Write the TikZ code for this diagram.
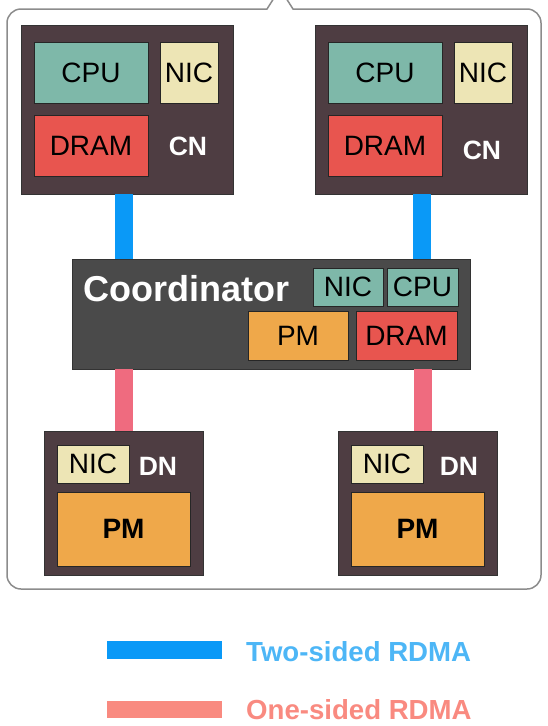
\documentclass[tikz,border=0pt]{standalone}
\usepackage{fontspec}
\setmainfont{Liberation Sans}
\definecolor{hostgray}{HTML}{4E3D42}
\definecolor{coordgray}{HTML}{4A4A4A}
\definecolor{cpuc}{HTML}{7EB8A9}
\definecolor{nicc}{HTML}{EDE5B5}
\definecolor{dramc}{HTML}{E8554F}
\definecolor{pmc}{HTML}{EFA84A}
\definecolor{linkblue}{HTML}{0A99F7}
\definecolor{linkpink}{HTML}{EF6B7F}
\definecolor{legpink}{HTML}{F98A80}
\definecolor{legblue}{HTML}{4DB6F6}
\begin{document}
\begin{tikzpicture}[x=1pt,y=-1pt,
  hostbox/.style={fill=hostgray,draw=black!80,line width=1pt,anchor=north west,inner sep=0pt,outer sep=0pt},
  partbox/.style={draw=black!85,line width=.8pt,anchor=north west,inner sep=0pt,outer sep=0pt,font=\fontsize{28}{30}\selectfont},
  hosttag/.style={text=white,inner sep=0pt,font=\bfseries\fontsize{26.5}{28}\selectfont},
  twoside/.style={draw=linkblue,line width=18pt},
  onesided/.style={draw=linkpink,line width=18pt},
  legtext/.style={anchor=base west,inner sep=0pt,font=\bfseries\fontsize{27.6}{30}\selectfont}]
\useasboundingbox (0,0) rectangle (547,726);
\clip (0,0) rectangle (547,726);
% callout frame
\draw[black!45,line width=1.5pt] (274,-2) -- (267,9) [rounded corners=14] -- (7,9) -- (7,589)
    -- (541,589) -- (541,9) -- (420,9) [sharp corners] -- (293,9) -- (286,-2);
% compute nodes
\foreach \n/\dx/\lx/\ly in {A/0/188/146,B/294/482/150}{
\node[hostbox,minimum width=212,minimum height=169] (cn\n) at (21+\dx,25) {};
\node[partbox,fill=cpuc,minimum width=114,minimum height=61] (cpu\n) at (34+\dx,42) {CPU};
\node[partbox,fill=nicc,minimum width=58,minimum height=61] (nic\n) at (160+\dx,42) {NIC};
\node[partbox,fill=dramc,minimum width=114,minimum height=61] (dram\n) at (34+\dx,115) {DRAM};
\node[hosttag] (cntag\n) at (\lx,\ly) {CN};
}
% coordinator
\node[hostbox,fill=coordgray,minimum width=398,minimum height=110] (coord) at (72,259) {};
\node[anchor=base west,inner sep=0pt,text=white,font=\bfseries\fontsize{36}{40}\selectfont] (coordname) at (83,301) {Coordinator};
\node[partbox,fill=cpuc,minimum width=70,minimum height=38] (coordnic) at (313,268) {NIC};
\node[partbox,fill=cpuc,minimum width=71,minimum height=38] (coordcpu) at (387,268) {CPU};
\node[partbox,fill=pmc,minimum width=100,minimum height=49] (coordpm) at (248,311) {PM};
\node[partbox,fill=dramc,minimum width=101,minimum height=49] (coorddram) at (356,311) {DRAM};
% data nodes
\foreach \n/\dx/\lx in {A/0/158,B/294/459}{
\node[hostbox,minimum width=159,minimum height=144] (dn\n) at (44+\dx,431) {};
\node[partbox,fill=nicc,minimum width=72,minimum height=38] (dnnic\n) at (57+\dx,445) {NIC};
\node[partbox,fill=pmc,minimum width=133,minimum height=74,font=\bfseries\fontsize{28}{30}\selectfont] (dnpm\n) at (57+\dx,492) {PM};
\node[hosttag] (dntag\n) at (\lx,466) {DN};
}
% links
\foreach \n/\dx in {A/103,B/107}
\draw[twoside] ([xshift=\dx]cn\n.south west) -- ([xshift=\dx]cn\n.south west |- coord.north);
\foreach \n/\dx in {A/80,B/85}
\draw[onesided] ([xshift=\dx]dn\n.north west) -- ([xshift=\dx]dn\n.north west |- coord.south);
% legend
\coordinate (leg1a) at (107,650);
\coordinate (leg1b) at (222,650);
\coordinate (leg2a) at (107,709.5);
\coordinate (leg2b) at (222,709.5);
\draw[twoside] (leg1a) -- (leg1b);
\draw[onesided,draw=legpink,line width=17pt] (leg2a) -- (leg2b);
\node[legtext,text=legblue] (leg1) at (246,661) {Two-sided RDMA};
\node[legtext,text=legpink] (leg2) at (246,719) {One-sided RDMA};
\end{tikzpicture}
\end{document}
